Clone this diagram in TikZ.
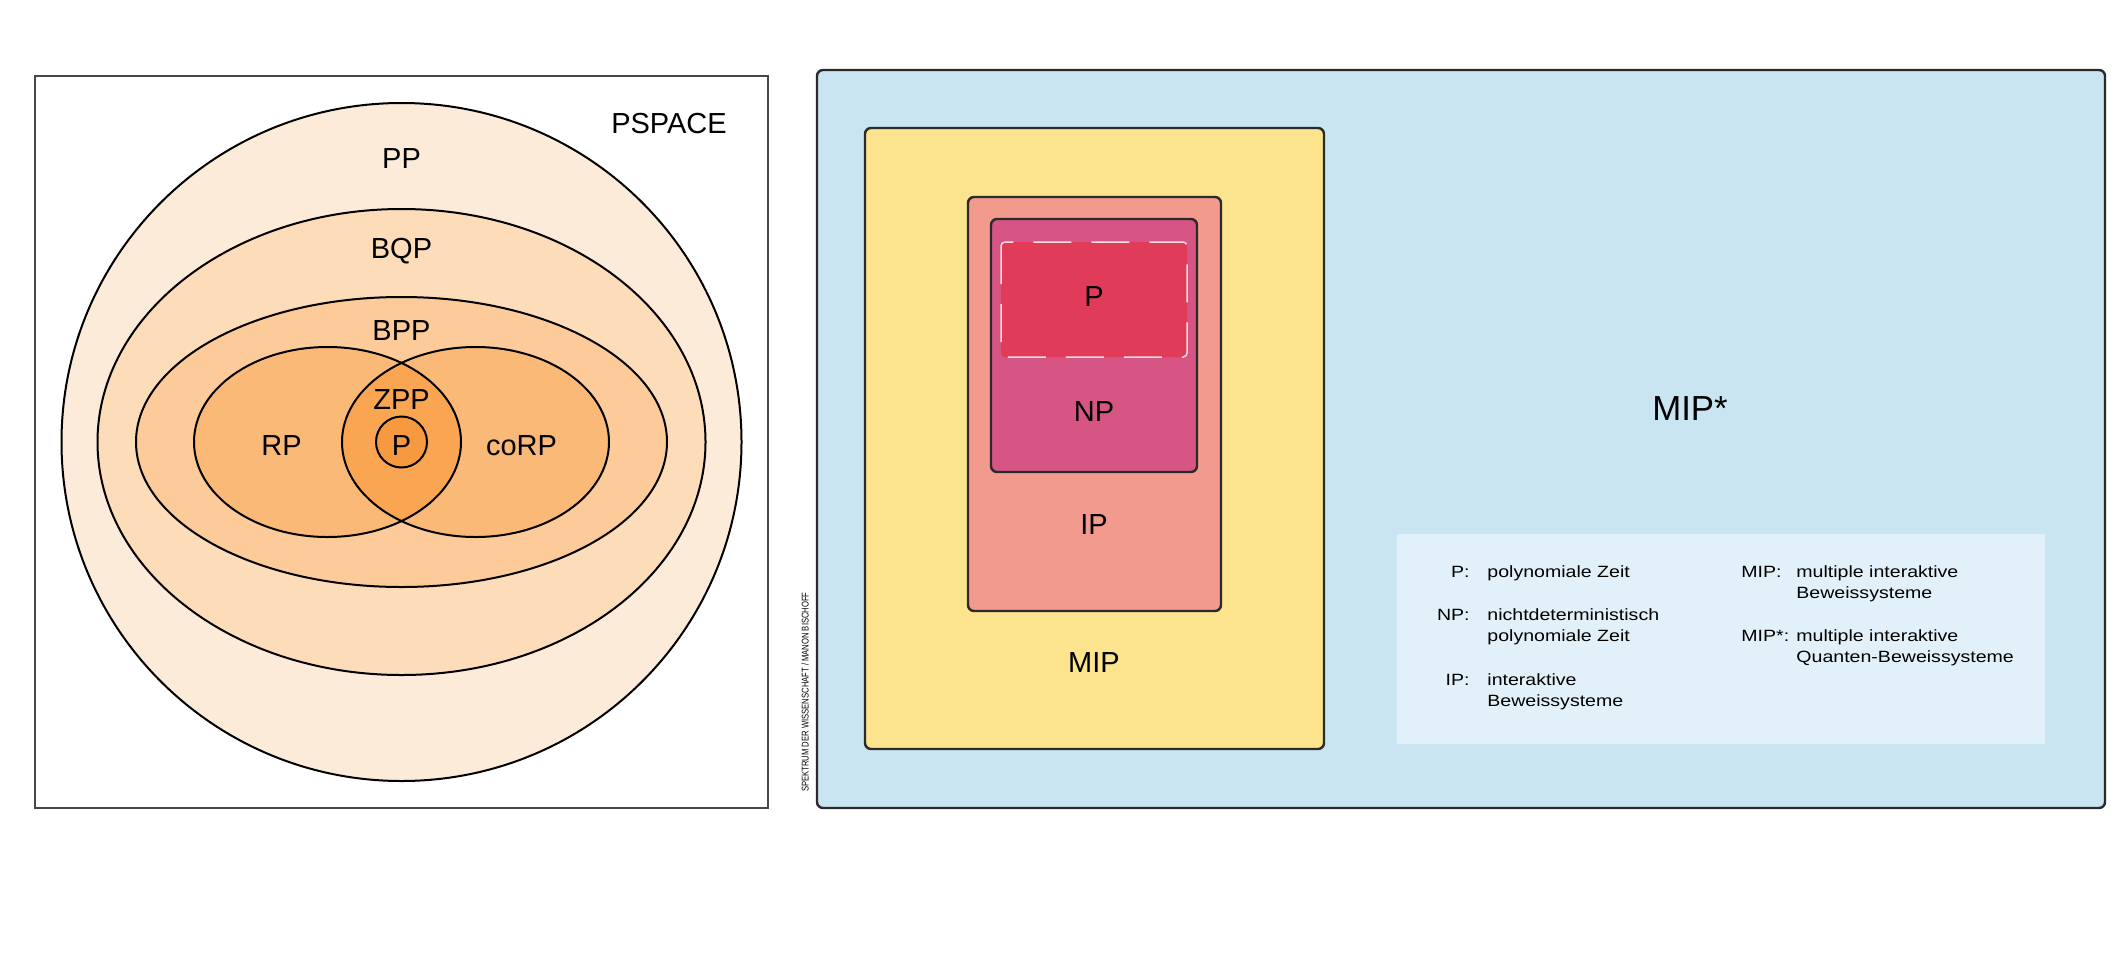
\documentclass[tikz,border=0pt]{standalone}
\usepackage{fontspec}
\setmainfont{Liberation Sans}
\newfontfamily\legendfont[FakeStretch=1.2]{Liberation Sans}
\newfontfamily\creditfont[FakeStretch=0.78]{Liberation Sans}
\usepackage{xcolor}
\usepackage{tikz}

\definecolor{ppfill}{HTML}{FDEBDA}
\definecolor{bqpfill}{HTML}{FDDCB9}
\definecolor{bppfill}{HTML}{FCCB99}
\definecolor{rpfill}{HTML}{FBB978}
\definecolor{zppfill}{HTML}{F9A552}
\definecolor{pfill}{HTML}{F7993F}
\definecolor{mipstarfill}{HTML}{C8E5F1}
\definecolor{legendfill}{HTML}{E2F1F9}
\definecolor{mipfill}{HTML}{FBE48D}
\definecolor{ipfill}{HTML}{F29A8E}
\definecolor{npfill}{HTML}{D65585}
\definecolor{ptimefill}{HTML}{E03C5A}
\definecolor{boxedge}{HTML}{2A2A2A}

% two legend lines, baseline on the first one
\newcommand{\keylines}[2]{\vtop{\hbox{#1}\hbox{#2}}}

\tikzset{
  setline/.style={draw=black, line width=1pt},
  setlabel/.style={inner sep=0pt, font=\fontsize{14.5}{16}\selectfont},
  boxline/.style={draw=boxedge, line width=1.2pt, rounded corners=3pt},
  legendtxt/.style={inner sep=0pt, font=\legendfont\fontsize{8.15}{10.5}\selectfont},
}

\begin{document}
\begin{tikzpicture}[x=0.5pt,y=0.5pt,yscale=-1,xscale=1]
\useasboundingbox (0,0) rectangle (2128,958);

%Shape: Square (PSPACE frame)
\draw [draw={rgb,255:red,70;green,70;blue,70}, line width=1pt, fill=white] (35,76) rectangle (768,808);
%Shape: Circle (PP)
\draw [setline, fill=ppfill] (401.5,442) ellipse [x radius=340, y radius=339];
%Shape: Ellipse (BQP)
\draw [setline, fill=bqpfill] (401.5,442) ellipse [x radius=304, y radius=233];
%Shape: Ellipse (BPP)
\draw [setline, fill=bppfill] (401.5,442) ellipse [x radius=265.5, y radius=145];
%Shape: Ellipse (RP, coRP)
\fill [rpfill] (327.5,442) ellipse [x radius=133.5, y radius=95];
\fill [rpfill] (475.5,442) ellipse [x radius=133.5, y radius=95];
\begin{scope}
\clip (327.5,442) ellipse [x radius=133.5, y radius=95];
\fill [zppfill] (475.5,442) ellipse [x radius=133.5, y radius=95];
\end{scope}
\draw [setline] (327.5,442) ellipse [x radius=133.5, y radius=95];
\draw [setline] (475.5,442) ellipse [x radius=133.5, y radius=95];
%Shape: Circle (P)
\draw [setline, fill=pfill] (401.5,442) circle [radius=25.5];

% Text Node
\draw (669,123.5) node (pspace) [setlabel] {PSPACE};
% Text Node
\draw (401.5,159) node (pp) [setlabel] {PP};
% Text Node
\draw (401.5,251.5) node (bqp) [setlabel] {BQP};
% Text Node
\draw (401.5,331) node (bpp) [setlabel] {BPP};
% Text Node
\draw (401.5,400) node (zpp) [setlabel] {ZPP};
% Text Node
\draw (281.5,446) node (rp) [setlabel] {RP};
% Text Node
\draw (521.5,446) node (corp) [setlabel] {coRP};
% Text Node
\draw (401.5,445.5) node (pcirc) [setlabel] {P};

%Shape: Rectangle (MIP*)
\draw [boxline, fill=mipstarfill] (817,70) rectangle (2105,808);
%Shape: Rectangle (legend)
\fill [legendfill] (1397,534) rectangle (2045,744);
%Shape: Rectangle (MIP)
\draw [boxline, fill=mipfill] (865,128) rectangle (1324,749);
%Shape: Rectangle (IP)
\draw [boxline, fill=ipfill] (968,197) rectangle (1221,611);
%Shape: Rectangle (NP)
\draw [boxline, fill=npfill] (991,219) rectangle (1197,472);
%Shape: Rectangle (P, dashed)
\draw [draw={rgb,255:red,245;green,222;blue,222}, line width=0.75pt, fill=ptimefill, rounded corners=2pt, dash pattern=on 19pt off 10pt] (1001,242) rectangle (1187,357);

% Text Node
\draw (1094,297) node (prect) [setlabel] {P};
% Text Node
\draw (1094,412) node (np) [setlabel] {NP};
% Text Node
\draw (1094,525) node (ip) [setlabel] {IP};
% Text Node
\draw (1094,663) node (mip) [setlabel] {MIP};
% Text Node
\draw (1690,409) node (mipstar) [setlabel, font=\fontsize{17.4}{19}\selectfont] {MIP*};

% Legend
\draw (1470,577) node (keyp) [legendtxt, anchor=base east] {P:};
\draw (1487,577) node (txtp) [legendtxt, anchor=base west] {polynomiale Zeit};
\draw (1470,620) node (keynp) [legendtxt, anchor=base east] {NP:};
\draw (1487,620) node (txtnp) [legendtxt, anchor=base west] {\keylines{nichtdeterministisch}{polynomiale Zeit}};
\draw (1470,685) node (keyip) [legendtxt, anchor=base east] {IP:};
\draw (1487,685) node (txtip) [legendtxt, anchor=base west] {\keylines{interaktive}{Beweissysteme}};
\draw (1741,577) node (keymip) [legendtxt, anchor=base west] {MIP:};
\draw (1796,577) node (txtmip) [legendtxt, anchor=base west] {\keylines{multiple interaktive}{Beweissysteme}};
\draw (1741,641) node (keymipstar) [legendtxt, anchor=base west] {MIP*:};
\draw (1796,641) node (txtmipstar) [legendtxt, anchor=base west] {\keylines{multiple interaktive}{Quanten-Beweissysteme}};

% Credit
\draw (805,692) node (credit) [inner sep=0pt, rotate=90, font=\creditfont\fontsize{4.9}{5}\selectfont] {SPEKTRUM DER WISSENSCHAFT / MANON BISCHOFF};
\end{tikzpicture}
\end{document}
